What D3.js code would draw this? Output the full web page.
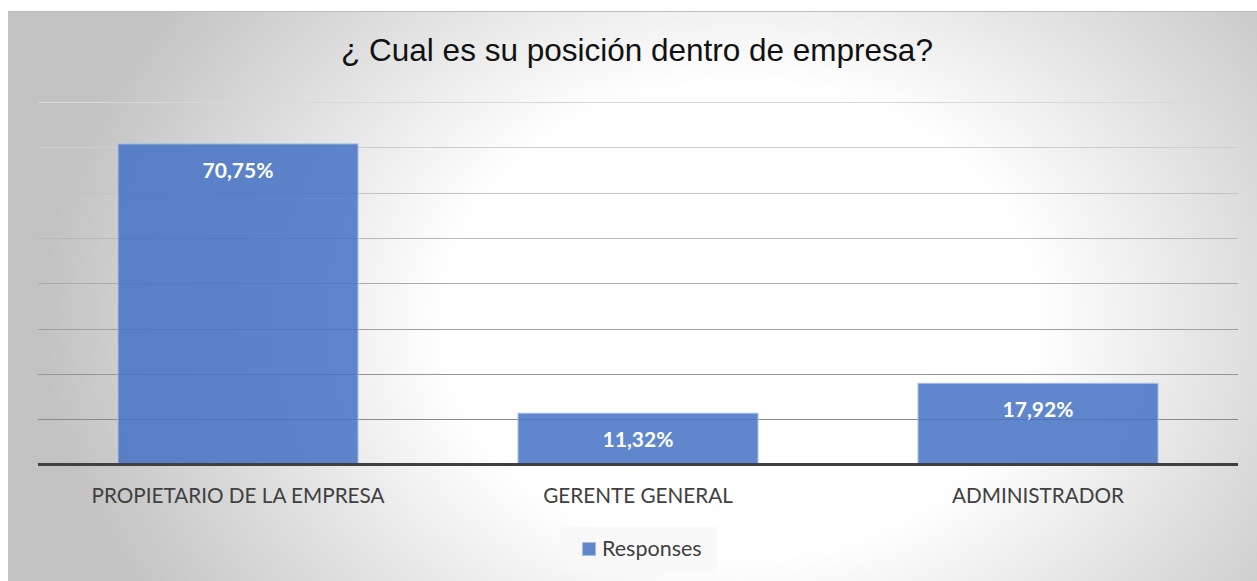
<html>
<head>
<meta charset="utf-8">
<script src="https://cdnjs.cloudflare.com/ajax/libs/d3/7.8.5/d3.min.js"></script>
<style>
body { margin: 0; background: white; }
svg text { font-family: Lato, "Open Sans", sans-serif; }
</style>
</head>
<body>
<svg width="1257" height="581"></svg>
<script>
// chart data
const categories = ["PROPIETARIO DE LA EMPRESA", "GERENTE GENERAL", "ADMINISTRADOR"];
const values = [70.75, 11.32, 17.92];
const valueLabels = ["70,75%", "11,32%", "17,92%"];
const gridTicks = [0, 10, 20, 30, 40, 50, 60, 70, 80];
const seriesName = "Responses";
const title = "¿ Cual es su posición dentro de empresa?";

const svg = d3.select("svg");
const plotLeft = 38, plotRight = 1238, plotTop = 102, plotBottom = 464.5;

// background gradient
const defs = svg.append("defs");
const grad = defs.append("radialGradient").attr("id", "bg")
  .attr("gradientUnits", "userSpaceOnUse")
  .attr("cx", 740).attr("cy", 320).attr("r", 700)
  .attr("gradientTransform", "translate(740,320) scale(1,0.8) translate(-740,-320)");
grad.append("stop").attr("offset", "0").attr("stop-color", "#ffffff");
grad.append("stop").attr("offset", "0.42").attr("stop-color", "#ffffff");
grad.append("stop").attr("offset", "1").attr("stop-color", "#c2c2c2");

svg.append("rect").attr("x", 8).attr("y", 11).attr("width", 1249).attr("height", 570)
  .attr("fill", "url(#bg)");
svg.append("line").attr("x1", 8).attr("x2", 1257).attr("y1", 11.5).attr("y2", 11.5)
  .attr("stroke", "#bdbdbd").attr("stroke-width", 1);

const x = d3.scaleBand().domain(categories).range([plotLeft, plotRight])
  .paddingInner(0.4).paddingOuter(0.2);
const y = d3.scaleLinear().domain([0, 80]).range([plotBottom, plotTop]);
const gridColor = d3.scaleLinear().domain([10, 80]).range(["#8a8a8a", "#d8d8d8"]);

// gridlines
svg.append("g").selectAll("line").data(gridTicks.filter(d => d > 0)).enter().append("line")
  .attr("x1", plotLeft).attr("x2", plotRight)
  .attr("y1", d => Math.round(y(d)) + 0.5).attr("y2", d => Math.round(y(d)) + 0.5)
  .attr("stroke", d => gridColor(d)).attr("stroke-width", 1);

// bars
svg.append("g").selectAll("rect").data(values).enter().append("rect")
  .attr("x", (d, i) => x(categories[i]))
  .attr("y", d => y(d))
  .attr("width", x.bandwidth())
  .attr("height", d => y(0) - y(d))
  .attr("fill", "#4472c4").attr("fill-opacity", 0.85)
  .attr("stroke", "#a9bde6").attr("stroke-width", 1);

// value labels
svg.append("g").selectAll("text").data(values).enter().append("text")
  .attr("x", (d, i) => x(categories[i]) + x.bandwidth() / 2)
  .attr("y", d => y(d) + 34)
  .attr("text-anchor", "middle")
  .attr("fill", "white").style("font-weight", "bold").style("font-size", "21px")
  .text((d, i) => valueLabels[i]);

// baseline
svg.append("line").attr("x1", plotLeft).attr("x2", plotRight)
  .attr("y1", y(0)).attr("y2", y(0))
  .attr("stroke", "#404040").attr("stroke-width", 3);

// category labels
svg.append("g").selectAll("text").data(categories).enter().append("text")
  .attr("x", d => x(d) + x.bandwidth() / 2)
  .attr("y", 503)
  .attr("text-anchor", "middle")
  .attr("fill", "#404040").style("font-size", "20.7px")
  .text(d => d);

// title
svg.append("text").attr("x", 637).attr("y", 61).attr("text-anchor", "middle")
  .style("font-family", "'Liberation Sans', Arial, sans-serif")
  .style("font-size", "31.5px").attr("fill", "#111")
  .text(title);

// legend
svg.append("rect").attr("x", 561).attr("y", 527).attr("width", 156).attr("height", 45)
  .attr("fill", "#f7f7f7").attr("fill-opacity", 0.8);
svg.append("rect").attr("x", 582.5).attr("y", 542.5).attr("width", 13).attr("height", 13)
  .attr("fill", "#4472c4").attr("fill-opacity", 0.85).attr("stroke", "#a9bde6");
svg.append("text").attr("x", 602).attr("y", 556)
  .attr("fill", "#404040").style("font-size", "21.5px")
  .text(seriesName);
</script>
</body>
</html>
